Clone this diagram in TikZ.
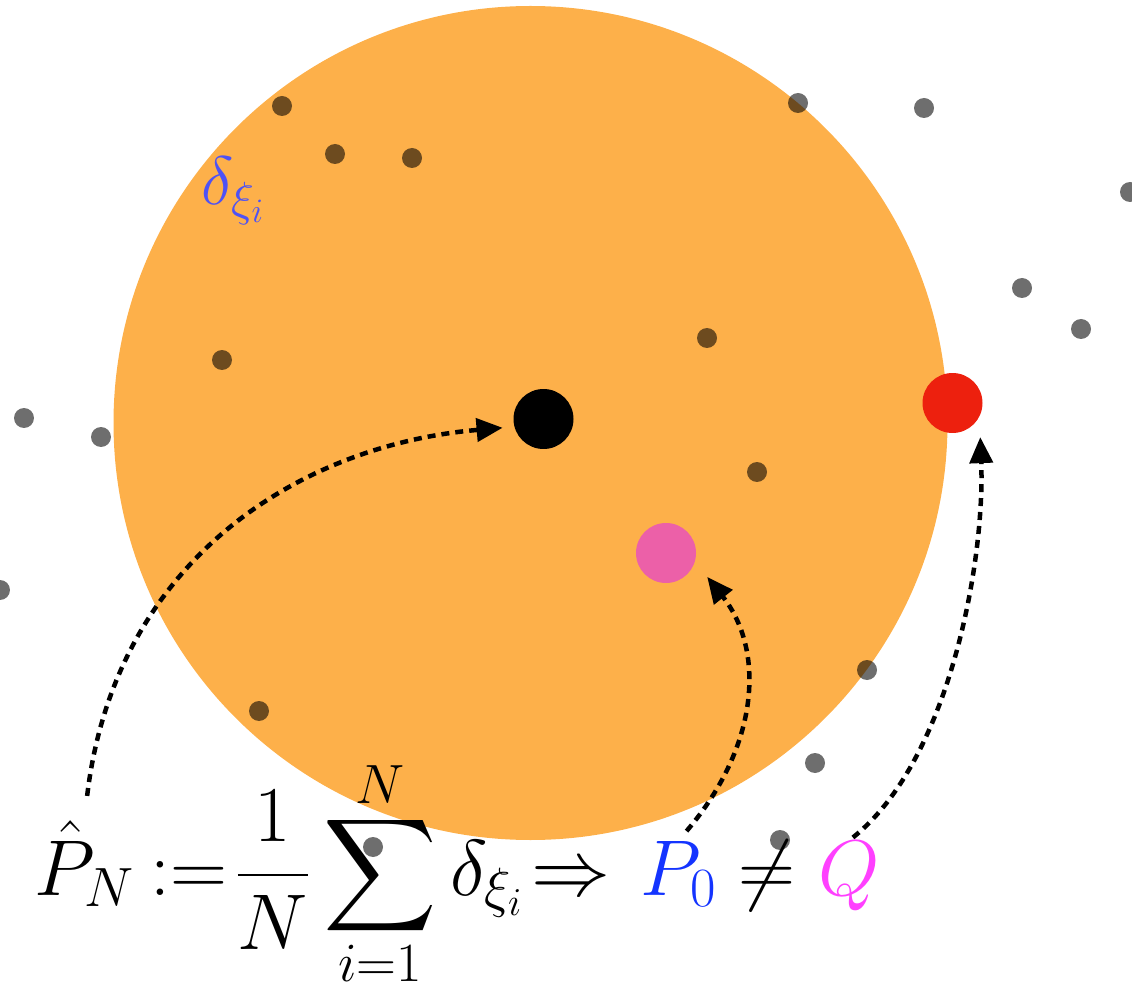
\documentclass[tikz,border=0pt]{standalone}
\usepackage{fix-cm}
\usepackage{amsmath}
\usetikzlibrary{arrows.meta}
\definecolor{BallColor}{RGB}{253,176,74}
\definecolor{WorstColor}{RGB}{237,32,14}
\definecolor{TrueColor}{RGB}{236,96,168}
\definecolor{LabelBlue}{RGB}{78,82,245}
\definecolor{PZeroBlue}{RGB}{20,52,255}
\definecolor{QMagenta}{RGB}{255,64,255}
\newcommand{\BigSum}{\mathop{\vcenter{\hbox{\scalebox{1.8}{$\displaystyle\sum$}}}}\limits}

\begin{document}
\begin{tikzpicture}[x=0.02cm,y=-0.02cm,
    sample/.style={circle, fill=black, fill opacity=0.57, inner sep=0pt, minimum size=0.4cm},
    bigdot/.style={circle, inner sep=0pt, outer sep=0pt, minimum size=1.2cm},
    formula/.style={inner sep=0pt, anchor=base west, font=\fontsize{45}{54}\selectfont},
    link/.style={dash pattern=on 0.16cm off 0.12cm, line width=0.09cm,
      -{Triangle[length=0.52cm,width=0.46cm]}}]
  \useasboundingbox (0,0) rectangle (1132,989);

  % ambiguity ball
  \fill[BallColor] (530.5,423) circle[radius=417];

  % samples
  \foreach \x/\y [count=\i] in {24/418,101/437,0/590,282/106,335/154,412/158,222/360,
      259/711,707/338,757/472,867/670,815/763,780/840,373/847,
      798/103,924/108,1130/192,1022/288,1081/329}
    \node[sample] (s\i) at (\x,\y) {};

  % distributions
  \node[bigdot, fill=black] (phatpt) at (543.5,419) {};
  \node[bigdot, fill=TrueColor] (pzeropt) at (666,553) {};
  \node[bigdot, fill=WorstColor] (qpt) at (952.5,403) {};

  \node[anchor=base west, text=LabelBlue, inner sep=0pt,
    font=\fontsize{39}{44}\selectfont] (dlabel) at (201,205) {$\delta_{\xi_i}$};

  % formula
  \node[formula] (phat) at (34,895) {$\hat{P}_N$};
  \node[formula] (defn) at (150,895)
    {$\displaystyle :=\mkern-3mu\frac{1}{N}\BigSum_{i=1}^{N}\delta_{\xi_i}\mkern-3mu\Rightarrow$};
  \node[formula, text=PZeroBlue] (pzero) at (640,895) {$P_0$};
  \node[formula] (neqsign) at (738,895) {$\neq$};
  \node[formula, text=QMagenta] (qq) at (818,895) {$Q$};

  % links
  \draw[link, shorten <=0.48cm, shorten >=0.24cm]
    (phat.north) .. controls (115,560) and (300,445) .. (phatpt.195);
  \draw[link, shorten <=0.25cm, shorten >=0.4cm]
    (pzero.north) .. controls (760,745) and (765,650) .. (pzeropt.-16);
  \draw[link, shorten <=0.1cm, shorten >=0.42cm]
    (qq.north) .. controls (950,760) and (985,560) .. (qpt.-26);
\end{tikzpicture}
\end{document}
